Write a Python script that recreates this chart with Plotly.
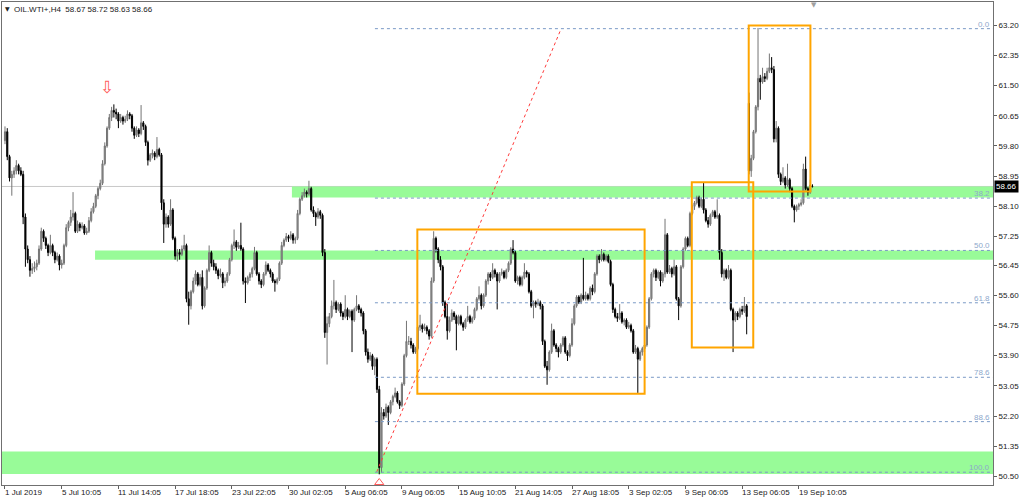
import plotly.graph_objects as go

# ---------------- data (OIL.WTI+, H4) ----------------
open_ = [
    59.95, 60.20, 59.50, 58.90, 59.00, 59.10, 59.25, 59.10, 59.00, 57.80,
    56.90, 56.60, 56.30, 56.35, 56.40, 56.50, 56.90, 57.40, 57.20, 57.00,
    56.80, 57.00, 56.80, 56.60, 56.70, 56.45, 56.50, 57.00, 57.50, 57.65,
    57.80, 57.90, 57.40, 57.60, 57.50, 57.55, 57.35, 57.40, 57.70, 57.95,
    58.10, 58.40, 58.60, 58.75, 59.30, 59.80, 60.30, 60.60, 60.80, 60.75,
    60.70, 60.50, 60.60, 60.50, 60.55, 60.70, 60.65, 60.30, 60.10, 60.25,
    60.15, 60.45, 60.35, 59.90, 59.40, 59.55, 59.60, 59.50, 59.70, 59.55,
    58.20, 57.60, 57.80, 57.60, 58.00, 57.20, 56.70, 56.80, 56.75, 56.90,
    57.00, 55.50, 55.30, 55.70, 56.00, 56.20, 55.90, 56.10, 55.30, 55.80,
    56.30, 56.80, 56.50, 56.40, 56.30, 56.15, 56.20, 55.95, 56.00, 56.20,
    56.60, 57.00, 57.10, 56.95, 57.00, 56.90, 56.00, 55.95, 56.10, 56.20,
    56.35, 56.80, 56.20, 56.00, 55.90, 56.20, 56.45, 56.30, 56.20, 56.00,
    55.95, 56.05, 56.50, 57.00, 57.15, 57.25, 57.20, 57.30, 57.15, 57.20,
    57.90, 58.30, 58.40, 58.50, 58.45, 58.60, 58.00, 57.90, 57.80, 57.95,
    57.85, 56.80, 54.55, 54.80, 55.00, 55.30, 55.40, 55.20, 55.35, 55.10,
    55.00, 55.20, 55.00, 55.15, 54.90, 55.20, 55.30, 55.20, 55.10, 54.60,
    54.00, 53.80, 53.90, 53.60, 53.80, 52.95, 50.75, 52.30, 52.20, 52.45,
    52.30, 52.60, 52.75, 52.85, 52.60, 52.50, 53.10, 53.90, 54.30, 54.30,
    54.20, 54.00, 54.10, 54.70, 54.75, 54.65, 54.70, 54.60, 54.45, 56.00,
    57.20, 56.90, 56.60, 56.40, 55.40, 55.00, 54.60, 54.90, 55.10, 55.00,
    54.80, 55.00, 54.80, 54.70, 54.90, 55.00, 54.85, 54.95, 55.20, 55.50,
    55.60, 55.30, 55.60, 56.00, 56.20, 56.10, 56.30, 56.20, 56.00, 56.20,
    56.25, 56.10, 56.30, 56.50, 56.90, 56.80, 56.00, 56.10, 55.90, 56.10,
    56.25, 56.20, 55.70, 55.30, 55.40, 55.35, 55.40, 55.30, 54.30, 53.60,
    53.50, 54.00, 54.60, 54.20, 54.10, 54.00, 54.20, 54.40, 54.00, 53.90,
    54.20, 54.80, 55.30, 55.55, 55.40, 55.60, 55.50, 55.60, 55.50, 55.80,
    55.70, 56.20, 56.70, 56.60, 56.75, 56.60, 56.70, 56.55, 55.90, 55.20,
    55.00, 54.95, 55.10, 54.85, 54.90, 54.70, 54.75, 54.60, 54.00, 54.10,
    53.80, 54.00, 54.10, 54.20, 54.70, 55.50, 56.20, 56.30, 56.10, 56.25,
    56.00, 56.20, 57.30, 56.25, 56.35, 56.20, 56.40, 55.50, 55.30, 56.40,
    56.90, 57.20, 57.00, 57.90, 58.10, 58.20, 58.35, 58.10, 58.30, 58.00,
    57.70, 57.60, 57.85, 57.95, 57.80, 57.85, 56.80, 56.20, 56.30, 56.10,
    56.30, 55.20, 54.90, 55.10, 55.00, 55.20, 55.15, 55.30, 61.00, 59.10,
    59.45, 60.20, 60.90, 61.70, 61.60, 61.75, 61.70, 61.90, 62.00, 61.95,
    60.00, 60.30, 59.00, 58.80, 58.90, 58.70, 58.85, 58.60, 58.10, 58.00,
    58.10, 58.15, 58.20, 59.15, 58.60, 58.50, 58.67,
]
high = [
    60.35, 60.30, 59.55, 59.10, 59.20, 59.40, 59.30, 59.20, 59.10, 57.90,
    57.00, 56.70, 56.50, 56.55, 56.60, 57.00, 57.50, 57.45, 57.25, 57.05,
    57.30, 57.05, 56.85, 56.80, 56.75, 56.60, 57.05, 57.60, 57.70, 58.00,
    58.50, 57.95, 57.70, 57.65, 57.65, 57.60, 57.50, 57.80, 58.05, 58.20,
    58.45, 58.65, 58.85, 59.40, 59.90, 60.35, 60.70, 60.90, 60.97, 60.85,
    60.75, 60.70, 60.65, 60.65, 60.80, 60.75, 60.70, 60.35, 60.35, 60.30,
    60.95, 60.50, 60.40, 59.95, 59.60, 59.70, 59.65, 60.05, 59.75, 59.60,
    58.30, 57.90, 57.85, 58.30, 58.05, 57.25, 56.90, 56.90, 57.00, 57.30,
    57.05, 55.70, 55.75, 56.10, 56.30, 56.25, 56.20, 56.30, 55.85, 56.35,
    57.00, 56.85, 56.60, 56.50, 56.35, 56.35, 56.25, 56.10, 56.25, 56.65,
    57.05, 57.45, 57.15, 57.10, 57.64, 56.95, 56.10, 56.15, 56.25, 56.40,
    56.96, 56.85, 56.25, 56.05, 56.25, 56.55, 56.50, 56.35, 56.25, 56.05,
    56.10, 56.55, 57.10, 57.20, 57.35, 57.30, 57.40, 57.35, 57.25, 58.00,
    58.35, 58.50, 58.60, 58.55, 58.82, 58.65, 58.10, 57.95, 58.05, 58.00,
    57.90, 56.90, 55.00, 55.10, 55.45, 56.03, 55.45, 55.40, 55.40, 55.15,
    55.60, 55.25, 55.20, 55.20, 55.25, 55.60, 55.35, 55.25, 55.15, 54.65,
    54.10, 54.00, 53.95, 53.85, 53.85, 53.05, 52.45, 52.40, 52.55, 52.50,
    52.65, 52.80, 53.00, 52.90, 52.65, 53.15, 53.95, 54.88, 54.45, 54.40,
    54.25, 54.15, 54.75, 55.05, 54.80, 54.80, 54.75, 54.65, 56.10, 57.40,
    57.25, 56.95, 56.70, 56.45, 55.45, 55.35, 55.00, 55.20, 55.15, 55.05,
    55.05, 55.05, 54.85, 54.95, 55.30, 55.05, 55.00, 55.25, 55.55, 55.85,
    55.65, 55.65, 56.05, 56.25, 56.25, 56.50, 56.35, 56.25, 56.25, 56.35,
    56.30, 56.35, 56.55, 56.95, 57.15, 56.85, 56.15, 56.15, 56.15, 56.50,
    56.30, 56.25, 55.75, 55.45, 55.45, 55.50, 55.45, 55.35, 54.35, 53.75,
    54.05, 54.80, 54.65, 54.25, 54.15, 54.25, 54.45, 54.45, 54.05, 54.25,
    54.95, 55.35, 55.60, 55.60, 55.65, 56.65, 55.70, 55.65, 55.85, 55.90,
    56.25, 56.75, 56.75, 56.90, 56.80, 56.75, 56.75, 56.60, 55.95, 55.25,
    55.10, 55.35, 55.15, 54.95, 54.95, 54.85, 54.80, 54.65, 54.20, 54.15,
    54.05, 54.15, 54.25, 54.75, 55.55, 56.25, 56.35, 56.35, 56.30, 56.30,
    56.25, 57.75, 57.35, 56.45, 56.40, 56.60, 56.45, 55.55, 56.45, 56.95,
    57.25, 57.25, 57.95, 58.15, 58.25, 58.40, 58.40, 58.35, 58.78, 58.05,
    57.80, 57.90, 58.00, 58.00, 58.30, 57.90, 56.90, 56.35, 56.35, 56.45,
    56.35, 55.25, 55.15, 55.15, 55.25, 55.30, 55.55, 55.35, 61.30, 59.55,
    60.25, 60.95, 63.12, 61.80, 62.00, 61.85, 62.00, 62.40, 62.30, 62.05,
    60.50, 60.35, 59.05, 59.20, 58.95, 59.30, 58.90, 58.65, 58.15, 58.15,
    58.20, 58.30, 59.30, 59.50, 58.65, 58.85, 58.72,
]
low = [
    59.85, 59.40, 58.80, 58.40, 58.90, 59.00, 59.00, 58.95, 57.60, 56.40,
    56.50, 56.12, 56.20, 56.25, 56.30, 56.45, 56.85, 57.10, 56.90, 56.70,
    56.75, 56.70, 56.50, 56.55, 56.30, 56.35, 56.45, 56.95, 57.40, 57.55,
    57.70, 57.35, 57.35, 57.40, 57.45, 57.30, 57.30, 57.35, 57.65, 57.90,
    58.05, 58.30, 58.55, 58.70, 59.25, 59.75, 60.25, 60.50, 60.60, 60.55,
    60.30, 60.45, 60.40, 60.45, 60.50, 60.55, 60.20, 60.00, 60.05, 60.05,
    60.10, 60.25, 59.80, 59.25, 59.35, 59.45, 59.40, 59.45, 59.50, 58.00,
    57.07, 57.50, 57.50, 57.55, 57.15, 56.60, 56.55, 56.60, 56.70, 56.85,
    55.40, 54.77, 55.20, 55.65, 55.90, 55.85, 55.85, 55.20, 55.25, 55.75,
    56.25, 56.40, 56.30, 56.20, 56.05, 56.10, 55.80, 55.85, 55.95, 56.15,
    56.55, 56.90, 56.85, 56.90, 56.85, 55.90, 55.38, 55.90, 56.00, 56.10,
    56.30, 56.15, 55.90, 55.80, 55.85, 56.15, 56.25, 56.10, 55.95, 55.70,
    55.90, 56.00, 56.45, 56.95, 57.10, 57.10, 57.15, 57.05, 57.05, 57.15,
    57.85, 58.25, 58.35, 58.35, 58.40, 57.95, 57.80, 57.55, 57.75, 57.75,
    56.70, 54.40, 53.65, 54.70, 54.95, 55.20, 55.10, 55.15, 55.00, 54.90,
    54.95, 54.90, 54.95, 54.00, 54.85, 55.15, 55.10, 55.00, 54.50, 53.90,
    53.70, 53.75, 53.50, 53.35, 52.85, 50.56, 50.60, 52.10, 52.15, 51.95,
    52.25, 52.50, 52.70, 52.55, 52.40, 52.45, 53.05, 53.85, 54.20, 54.10,
    53.95, 53.95, 54.05, 54.60, 54.55, 54.60, 54.50, 54.35, 54.40, 55.95,
    56.80, 56.50, 56.30, 55.30, 54.95, 54.35, 54.55, 54.85, 54.90, 54.05,
    54.75, 54.75, 54.60, 54.65, 54.85, 54.80, 54.80, 54.90, 55.15, 55.45,
    55.20, 55.25, 55.55, 55.90, 56.00, 56.05, 56.10, 55.20, 55.95, 56.15,
    56.05, 56.05, 56.25, 56.45, 56.75, 55.95, 55.90, 55.85, 55.85, 56.05,
    56.10, 55.65, 55.25, 54.95, 55.25, 55.30, 55.20, 54.20, 53.55, 53.08,
    53.45, 53.95, 54.15, 54.00, 53.85, 53.95, 54.15, 53.95, 53.75, 53.85,
    54.15, 54.75, 55.25, 55.35, 55.35, 55.45, 55.45, 55.45, 55.45, 55.60,
    55.65, 56.15, 56.50, 56.55, 56.55, 56.55, 56.50, 55.85, 55.10, 54.95,
    54.85, 54.90, 54.80, 54.75, 54.65, 54.65, 54.55, 53.95, 53.95, 52.85,
    53.75, 53.90, 54.00, 54.15, 54.65, 55.45, 56.10, 56.00, 56.05, 55.85,
    55.95, 56.10, 56.20, 56.20, 56.10, 56.15, 55.45, 54.90, 55.25, 56.35,
    56.85, 56.95, 56.95, 57.85, 58.00, 58.15, 58.05, 58.05, 57.90, 57.65,
    57.50, 57.55, 57.80, 57.75, 57.75, 56.60, 56.10, 56.00, 56.05, 56.05,
    55.15, 54.00, 54.85, 54.90, 54.95, 55.05, 55.10, 54.50, 59.00, 58.93,
    59.40, 60.15, 60.80, 61.10, 61.55, 61.60, 61.65, 61.85, 61.85, 59.90,
    59.90, 58.90, 58.70, 58.75, 58.60, 58.65, 58.50, 58.05, 57.65, 57.95,
    58.00, 58.10, 58.15, 58.55, 58.40, 58.45, 58.63,
]
close = [
    60.20, 59.50, 58.90, 59.00, 59.10, 59.25, 59.10, 59.00, 57.80, 56.90,
    56.60, 56.30, 56.35, 56.40, 56.50, 56.90, 57.40, 57.20, 57.00, 56.80,
    57.00, 56.80, 56.60, 56.70, 56.45, 56.50, 57.00, 57.50, 57.65, 57.80,
    57.90, 57.40, 57.60, 57.50, 57.55, 57.35, 57.40, 57.70, 57.95, 58.10,
    58.40, 58.60, 58.75, 59.30, 59.80, 60.30, 60.60, 60.80, 60.75, 60.70,
    60.50, 60.60, 60.50, 60.55, 60.70, 60.65, 60.30, 60.10, 60.25, 60.15,
    60.45, 60.35, 59.90, 59.40, 59.55, 59.60, 59.50, 59.70, 59.55, 58.20,
    57.60, 57.80, 57.60, 58.00, 57.20, 56.70, 56.80, 56.75, 56.90, 57.00,
    55.50, 55.30, 55.70, 56.00, 56.20, 55.90, 56.10, 55.30, 55.80, 56.30,
    56.80, 56.50, 56.40, 56.30, 56.15, 56.20, 55.95, 56.00, 56.20, 56.60,
    57.00, 57.10, 56.95, 57.00, 56.90, 56.00, 55.95, 56.10, 56.20, 56.35,
    56.80, 56.20, 56.00, 55.90, 56.20, 56.45, 56.30, 56.20, 56.00, 55.95,
    56.05, 56.50, 57.00, 57.15, 57.25, 57.20, 57.30, 57.15, 57.20, 57.90,
    58.30, 58.40, 58.50, 58.45, 58.60, 58.00, 57.90, 57.80, 57.95, 57.85,
    56.80, 54.55, 54.80, 55.00, 55.30, 55.40, 55.20, 55.35, 55.10, 55.00,
    55.20, 55.00, 55.15, 54.90, 55.20, 55.30, 55.20, 55.10, 54.60, 54.00,
    53.80, 53.90, 53.60, 53.80, 52.95, 50.75, 52.30, 52.20, 52.45, 52.30,
    52.60, 52.75, 52.85, 52.60, 52.50, 53.10, 53.90, 54.30, 54.30, 54.20,
    54.00, 54.10, 54.70, 54.75, 54.65, 54.70, 54.60, 54.45, 56.00, 57.20,
    56.90, 56.60, 56.40, 55.40, 55.00, 54.60, 54.90, 55.10, 55.00, 54.80,
    55.00, 54.80, 54.70, 54.90, 55.00, 54.85, 54.95, 55.20, 55.50, 55.60,
    55.30, 55.60, 56.00, 56.20, 56.10, 56.30, 56.20, 56.00, 56.20, 56.25,
    56.10, 56.30, 56.50, 56.90, 56.80, 56.00, 56.10, 55.90, 56.10, 56.25,
    56.20, 55.70, 55.30, 55.40, 55.35, 55.40, 55.30, 54.30, 53.60, 53.50,
    54.00, 54.60, 54.20, 54.10, 54.00, 54.20, 54.40, 54.00, 53.90, 54.20,
    54.80, 55.30, 55.55, 55.40, 55.60, 55.50, 55.60, 55.50, 55.80, 55.70,
    56.20, 56.70, 56.60, 56.75, 56.60, 56.70, 56.55, 55.90, 55.20, 55.00,
    54.95, 55.10, 54.85, 54.90, 54.70, 54.75, 54.60, 54.00, 54.10, 53.80,
    54.00, 54.10, 54.20, 54.70, 55.50, 56.20, 56.30, 56.10, 56.25, 56.00,
    56.20, 57.30, 56.25, 56.35, 56.20, 56.40, 55.50, 55.30, 56.40, 56.90,
    57.20, 57.00, 57.90, 58.10, 58.20, 58.35, 58.10, 58.30, 58.00, 57.70,
    57.60, 57.85, 57.95, 57.80, 57.85, 56.80, 56.20, 56.30, 56.10, 56.30,
    55.20, 54.90, 55.10, 55.00, 55.20, 55.15, 55.30, 55.00, 59.10, 59.45,
    60.20, 60.90, 61.70, 61.60, 61.75, 61.70, 61.90, 62.00, 61.95, 60.00,
    60.30, 59.00, 58.80, 58.90, 58.70, 58.85, 58.60, 58.10, 58.00, 58.10,
    58.15, 58.20, 59.15, 58.60, 58.50, 58.70, 58.66,
]
assert len(open_) == len(high) == len(low) == len(close)
bar_index = list(range(len(close)))

# time axis labels (one every 25 H4 bars)
date_tick_bars = [0, 25, 50, 75, 100, 125, 150, 175, 200, 225, 250, 275, 300, 325, 350]
date_tick_labels = ["1 Jul 2019", "5 Jul 10:05", "11 Jul 14:05", "17 Jul 18:05",
                    "23 Jul 22:05", "30 Jul 02:05", "5 Aug 06:05", "9 Aug 06:05",
                    "15 Aug 10:05", "21 Aug 14:05", "27 Aug 18:05", "3 Sep 02:05",
                    "9 Sep 06:05", "13 Sep 06:05", "19 Sep 10:05"]

# price axis labels
price_ticks = [50.50, 51.35, 52.20, 53.05, 53.90, 54.75, 55.60, 56.45,
               57.25, 58.10, 58.95, 59.80, 60.65, 61.50, 62.35, 63.20]

title_text = "OIL.WTI+,H4  58.67 58.72 58.63 58.66"
last_price = 58.66

# Fibonacci retracement
fib_levels = [0.0, 38.2, 50.0, 61.8, 78.6, 88.6, 100.0]
fib_labels = ["0.0", "38.2", "50.0", "61.8", "78.6", "88.6", "100.0"]
fib_high = 63.10
fib_low = 50.62
fib_start_bar = 163.1

# support / resistance zones
zone_start_bar = [126.5, 39.7, -2.0]
zone_low = [58.35, 56.60, 50.57]
zone_high = [58.66, 56.86, 51.20]

# orange rectangles
box_bar0 = [181.8, 302.8, 327.9]
box_bar1 = [282.0, 329.9, 355.1]
box_low = [52.83, 54.13, 58.52]
box_high = [57.45, 58.78, 63.19]

# red trend line
trend_bars = [163.9, 245.2]
trend_prices = [50.63, 63.10]

# arrow marks (swing high / swing low)
down_arrow_bar, down_arrow_price = 45, 61.40
up_arrow_bar, up_arrow_price = 165, 50.33

# ---------------- figure ----------------
X_RANGE = [-1.32, 435.6]
Y_RANGE = [50.26, 63.85]
FONT = "Liberation Sans, Arial, sans-serif"

fig = go.Figure()

fig.add_trace(go.Candlestick(
    x=bar_index, open=open_, high=high, low=low, close=close,
    increasing=dict(line=dict(color="#747474", width=1), fillcolor="#9a9a9a"),
    decreasing=dict(line=dict(color="#000000", width=1), fillcolor="#000000"),
    whiskerwidth=0, showlegend=False, hoverinfo="skip",
))

fig.add_trace(go.Scatter(
    x=trend_bars, y=trend_prices, mode="lines",
    line=dict(color="#ff3b3b", width=1, dash="dot"),
    showlegend=False, hoverinfo="skip",
))

fig.add_trace(go.Scatter(
    x=[down_arrow_bar], y=[down_arrow_price], mode="text", text=["⇩"],
    textfont=dict(family="DejaVu Sans", size=17, color="#ff5a5a"),
    textposition="middle center", cliponaxis=True,
    showlegend=False, hoverinfo="skip",
))
fig.add_trace(go.Scatter(
    x=[up_arrow_bar], y=[up_arrow_price], mode="markers",
    marker=dict(symbol="triangle-up-open", size=8, color="#ff5a5a",
                line=dict(color="#ff5a5a", width=1)),
    cliponaxis=True, showlegend=False, hoverinfo="skip",
))

shapes = []
for x0, lo, hi in zip(zone_start_bar, zone_low, zone_high):
    shapes.append(dict(type="rect", xref="x", yref="y", x0=x0, x1=X_RANGE[1],
                       y0=lo, y1=hi, fillcolor="#98fb98", line=dict(width=0),
                       layer="below"))
shapes.append(dict(type="line", xref="paper", yref="y", x0=0, x1=1,
                   y0=last_price, y1=last_price,
                   line=dict(color="#c8c8c8", width=1), layer="below"))
fib_prices = [fib_high - lv / 100.0 * (fib_high - fib_low) for lv in fib_levels]
for p in fib_prices:
    shapes.append(dict(type="line", xref="x", yref="y", x0=fib_start_bar,
                       x1=X_RANGE[1], y0=p, y1=p,
                       line=dict(color="#7b9ac6", width=1, dash="dot")))
for x0, x1, lo, hi in zip(box_bar0, box_bar1, box_low, box_high):
    shapes.append(dict(type="rect", xref="x", yref="y", x0=x0, x1=x1,
                       y0=lo, y1=hi, line=dict(color="#ffa500", width=2),
                       fillcolor="rgba(0,0,0,0)"))

annotations = []
for p, lab in zip(fib_prices, fib_labels):
    annotations.append(dict(xref="paper", yref="y", x=1, y=p, text=lab,
                            xanchor="right", yanchor="bottom", showarrow=False,
                            xshift=-1, yshift=-2,
                            font=dict(family=FONT, size=8, color="#8ea8cc")))
for b, lab in zip(date_tick_bars, date_tick_labels):
    annotations.append(dict(xref="x", yref="paper", x=b, y=0, text=lab,
                            xanchor="left", yanchor="top", showarrow=False,
                            xshift=-2, yshift=-1,
                            font=dict(family=FONT, size=8, color="#202020")))
annotations.append(dict(xref="paper", yref="paper", x=0, y=1, text="▼",
                        xanchor="left", yanchor="top", showarrow=False,
                        xshift=1, yshift=-1,
                        font=dict(family="DejaVu Sans", size=6, color="#202020")))
annotations.append(dict(xref="paper", yref="paper", x=0, y=1, text=title_text,
                        xanchor="left", yanchor="top", showarrow=False,
                        xshift=10, yshift=-1,
                        font=dict(family=FONT, size=8, color="#202020")))
annotations.append(dict(xref="paper", yref="y", x=1, y=last_price,
                        text=f"{last_price:.2f}", xanchor="left", yanchor="middle",
                        showarrow=False, xshift=1, bgcolor="#000000", borderpad=1,
                        font=dict(family=FONT, size=8, color="#ffffff")))
annotations.append(dict(xref="x", yref="paper", x=356.7, y=1, text="▼",
                        xanchor="center", yanchor="top", showarrow=False,
                        yshift=2, borderpad=0,
                        font=dict(family="DejaVu Sans", size=7, color="#a0a0a0")))

fig.update_layout(
    width=1024, height=503,
    margin=dict(l=2, r=31, t=2, b=18),
    paper_bgcolor="#ffffff", plot_bgcolor="#ffffff",
    font=dict(family=FONT, size=8, color="#202020"),
    showlegend=False,
    shapes=shapes, annotations=annotations,
    xaxis=dict(range=X_RANGE, rangeslider=dict(visible=False), showgrid=False,
               zeroline=False, tickvals=date_tick_bars, showticklabels=False,
               ticks="outside", ticklen=3, tickcolor="#606060",
               showline=True, linecolor="#707070", linewidth=1, mirror=True,
               fixedrange=True),
    yaxis=dict(range=Y_RANGE, side="right", showgrid=False, zeroline=False,
               tickmode="array", tickvals=price_ticks,
               ticktext=[f"{v:.2f}" for v in price_ticks],
               ticks="outside", ticklen=3, tickcolor="#606060",
               tickfont=dict(family=FONT, size=8, color="#202020"),
               showline=True, linecolor="#707070", linewidth=1, mirror=True,
               fixedrange=True),
)

fig.write_html(
    "out.html",
    config={"displayModeBar": False, "staticPlot": True},
    post_script="document.body.style.margin='0px';document.body.style.overflow='hidden';",
)
